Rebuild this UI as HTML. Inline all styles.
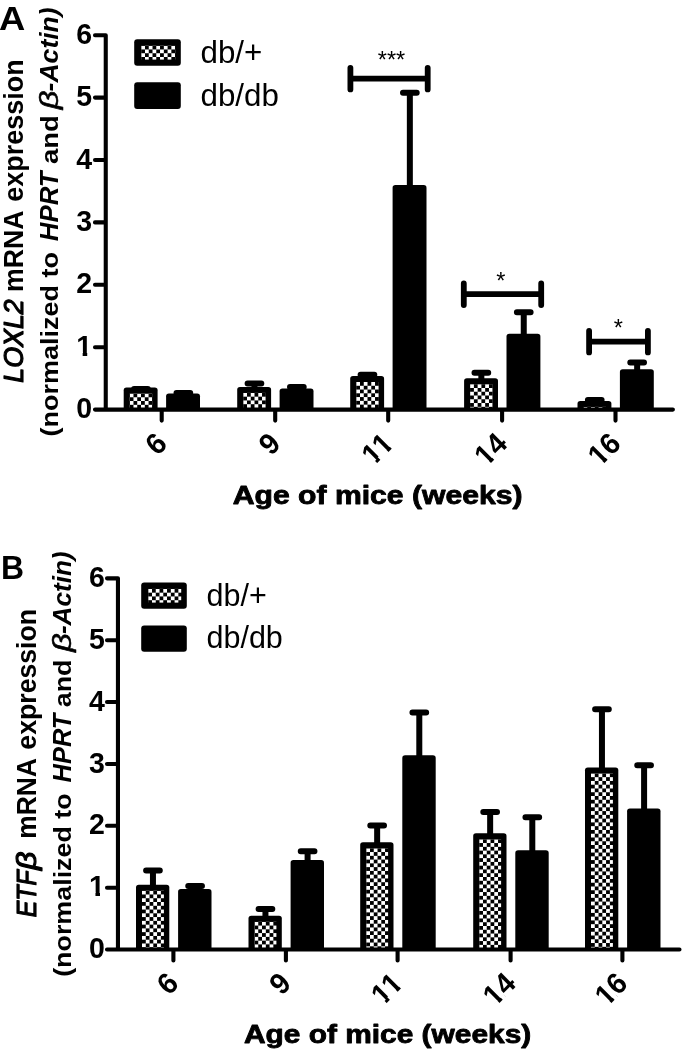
<!DOCTYPE html>
<html lang="en"><head><meta charset="utf-8"><title>Figure</title>
<style>
html,body{margin:0;padding:0;background:#fff;}
body{width:685px;height:1051px;overflow:hidden;}
svg{display:block;}
text{font-family:"Liberation Sans",Arial,Helvetica,sans-serif;fill:#000;}
.b{font-weight:bold;}
.i{font-style:italic;}
.mi{stroke:#000;stroke-width:0.55;stroke-linejoin:round;}
.li{stroke:#000;stroke-width:1.15;stroke-linejoin:round;}
.xl{stroke:#000;stroke-width:0.8;stroke-linejoin:round;}
.ax{stroke:#000;stroke-width:4.10;stroke-linecap:round;fill:none;}
.er{stroke:#000;stroke-width:6.00;stroke-linecap:round;fill:none;}
.br{stroke:#000;stroke-width:5.80;stroke-linecap:round;fill:none;}
</style></head><body>
<svg width="685" height="1051" viewBox="0 0 685 1051">
<defs><pattern id="chk" width="7.540" height="7.540" patternUnits="userSpaceOnUse">
<rect width="7.540" height="7.540" fill="#fff"/>
<rect x="3.770" y="0" width="3.770" height="3.770" fill="#000"/>
<rect x="0" y="3.770" width="3.770" height="3.770" fill="#000"/>
</pattern>
<clipPath id="c1" clipPathUnits="userSpaceOnUse"><path d="M-16.96 -29.60H0.00V-3.70H-16.96ZM-9.80 -5.92H-5.07V2.00H-9.80Z"/></clipPath>
<clipPath id="c11" clipPathUnits="userSpaceOnUse"><path d="M-33.43 -29.60H-16.46V-3.70H-33.43ZM-26.27 -5.92H-21.53V2.00H-26.27ZM-16.96 -29.60H0.00V-3.70H-16.96ZM-9.80 -5.92H-5.07V2.00H-9.80Z"/></clipPath>
<clipPath id="c14" clipPathUnits="userSpaceOnUse"><path d="M-33.43 -29.60H-16.46V-3.70H-33.43ZM-26.27 -5.92H-21.53V2.00H-26.27ZM-16.96 -29.60H0.50V8.88H-16.96Z"/></clipPath>
<clipPath id="c16" clipPathUnits="userSpaceOnUse"><path d="M-33.43 -29.60H-16.46V-3.70H-33.43ZM-26.27 -5.92H-21.53V2.00H-26.27ZM-16.96 -29.60H0.50V8.88H-16.96Z"/></clipPath>
</defs>
<rect width="685" height="1051" fill="#fff"/>
<g id="panelA">
<path class="er" d="M134.10 389.00H147.80M140.95 389.00V390.50"/>
<path class="er" d="M176.50 393.00H190.20M183.35 393.00V396.40"/>
<path class="er" d="M247.60 383.40H261.30M254.45 383.40V389.90"/>
<path class="er" d="M290.00 387.00H303.70M296.85 387.00V391.50"/>
<path class="er" d="M360.60 374.70H374.30M367.45 374.70V379.00"/>
<path class="er" d="M403.00 92.70H416.70M409.85 92.70V188.10"/>
<path class="er" d="M474.50 372.85H488.20M481.35 372.85V381.20"/>
<path class="er" d="M516.90 312.30H530.60M523.75 312.30V336.70"/>
<path class="er" d="M587.90 400.10H601.60M594.75 400.10V403.90"/>
<path class="er" d="M630.30 362.40H644.00M637.15 362.40V372.20"/>
<rect x="123.70" y="387.50" width="33.90" height="23.10" rx="2.8" fill="#000"/>
<g transform="translate(129.70 393.50)"><rect width="22.50" height="14.50" fill="url(#chk)"/></g>
<rect x="166.10" y="393.40" width="33.90" height="17.20" rx="2.8" fill="#000"/>
<rect x="237.20" y="386.90" width="33.90" height="23.70" rx="2.8" fill="#000"/>
<g transform="translate(243.20 392.90)"><rect width="22.50" height="15.10" fill="url(#chk)"/></g>
<rect x="279.60" y="388.50" width="33.90" height="22.10" rx="2.8" fill="#000"/>
<rect x="350.20" y="376.00" width="33.90" height="34.60" rx="2.8" fill="#000"/>
<g transform="translate(356.20 382.00)"><rect width="22.50" height="26.00" fill="url(#chk)"/></g>
<rect x="392.60" y="185.10" width="33.90" height="225.50" rx="2.8" fill="#000"/>
<rect x="464.10" y="378.20" width="33.90" height="32.40" rx="2.8" fill="#000"/>
<g transform="translate(470.10 384.20)"><rect width="22.50" height="23.80" fill="url(#chk)"/></g>
<rect x="506.50" y="333.70" width="33.90" height="76.90" rx="2.8" fill="#000"/>
<rect x="577.50" y="400.90" width="33.90" height="9.70" rx="2.8" fill="#000"/>
<g transform="translate(583.50 406.90)"><rect width="22.50" height="1.10" fill="url(#chk)"/></g>
<rect x="619.90" y="369.20" width="33.90" height="41.40" rx="2.8" fill="#000"/>
<path class="ax" d="M105.75 35.20V409.60M95.00 409.60H672.90M95.00 347.20H105.75M95.00 284.80H105.75M95.00 222.40H105.75M95.00 160.00H105.75M95.00 97.60H105.75M95.00 35.20H105.75M161.70 409.60V420.60M275.20 409.60V420.60M388.20 409.60V420.60M502.10 409.60V420.60M615.50 409.60V420.60"/>
<text class="b" transform="translate(92.10 418.20) scale(0.963 1)" font-size="29.6" text-anchor="end">0</text>
<text class="b" transform="translate(92.10 355.80) scale(0.963 1)" font-size="29.6" text-anchor="end" clip-path="url(#c1)">1</text>
<text class="b" transform="translate(92.10 293.40) scale(0.963 1)" font-size="29.6" text-anchor="end">2</text>
<text class="b" transform="translate(92.10 231.00) scale(0.963 1)" font-size="29.6" text-anchor="end">3</text>
<text class="b" transform="translate(92.10 168.60) scale(0.963 1)" font-size="29.6" text-anchor="end">4</text>
<text class="b" transform="translate(92.10 106.20) scale(0.963 1)" font-size="29.6" text-anchor="end">5</text>
<text class="b" transform="translate(92.10 43.80) scale(0.963 1)" font-size="29.6" text-anchor="end">6</text>
<text class="b" font-size="29.6" text-anchor="end" transform="translate(168.60 445.20) rotate(-45) scale(0.963 1)">6</text>
<text class="b" font-size="29.6" text-anchor="end" transform="translate(282.10 445.20) rotate(-45) scale(0.963 1)">9</text>
<text class="b" font-size="29.6" text-anchor="end" transform="translate(395.10 445.20) rotate(-45) scale(0.963 1)" clip-path="url(#c11)">11</text>
<text class="b" font-size="29.6" text-anchor="end" transform="translate(509.00 445.20) rotate(-45) scale(0.963 1)" clip-path="url(#c14)">14</text>
<text class="b" font-size="29.6" text-anchor="end" transform="translate(622.40 445.20) rotate(-45) scale(0.963 1)" clip-path="url(#c16)">16</text>
<path class="br" d="M350.40 78.60H427.70M350.40 67.80V89.40M427.70 67.80V89.40"/>
<path class="br" d="M463.80 294.20H541.20M463.80 283.40V305.00M541.20 283.40V305.00"/>
<path class="br" d="M589.10 341.60H647.90M589.10 330.80V352.40M647.90 330.80V352.40"/>
<text x="391.50" y="67.50" font-size="23.5" text-anchor="middle">***</text>
<text x="500.80" y="289.00" font-size="23.5" text-anchor="middle">*</text>
<text x="618.30" y="336.20" font-size="23.5" text-anchor="middle">*</text>
<rect x="134.20" y="39.20" width="46.60" height="26.60" rx="3.0" fill="#000"/>
<g transform="translate(141.20 45.70)"><rect width="34.00" height="13.90" fill="url(#chk)"/></g>
<rect x="134.20" y="82.30" width="46.60" height="26.60" rx="3.0" fill="#000"/>
<text x="200.50" y="63.30" font-size="31.3">db/+</text>
<text x="200.50" y="106.20" font-size="31.3">db/db</text>
<text class="b" transform="translate(-1.00 29.60) scale(1.070 1)" font-size="34.0">A</text>
<text transform="translate(22.80 381.90) rotate(-90)"><tspan class="i li" x="-0.80" font-size="26.8" textLength="83.46" lengthAdjust="spacingAndGlyphs">LOXL2</tspan> <tspan class="b" x="90.03" font-size="26.8" textLength="81.52" lengthAdjust="spacingAndGlyphs">mRNA</tspan> <tspan class="b" x="180.22" font-size="26.8" textLength="142.51" lengthAdjust="spacingAndGlyphs">expression</tspan></text>
<text transform="translate(58.20 435.20) rotate(-90)"><tspan class="b" x="-1.35" font-size="24.6" textLength="184.53" lengthAdjust="spacingAndGlyphs">(normalized to</tspan> <tspan class="b i" x="193.98" font-size="26.0" textLength="69.82" lengthAdjust="spacingAndGlyphs">HPRT</tspan> <tspan class="b" x="271.08" font-size="24.6" textLength="48.79" lengthAdjust="spacingAndGlyphs">and</tspan> <tspan class="i mi" x="326.05" font-size="26.0" textLength="18.65" lengthAdjust="spacingAndGlyphs">β</tspan><tspan class="b i" x="343.80" font-size="26.0" textLength="84.09" lengthAdjust="spacingAndGlyphs">-Actin)</tspan></text>
<text class="b xl" font-size="25.0" transform="translate(232.70 503.70) scale(1.207 1)">Age of mice (weeks)</text>
</g>
<g id="panelB">
<path class="er" d="M146.10 870.40H159.80M152.95 870.40V887.70"/>
<path class="er" d="M188.25 886.00H201.95M195.10 886.00V892.10"/>
<path class="er" d="M258.60 909.10H272.30M265.45 909.10V918.80"/>
<path class="er" d="M300.75 851.20H314.45M307.60 851.20V862.90"/>
<path class="er" d="M370.30 825.60H384.00M377.15 825.60V845.30"/>
<path class="er" d="M412.45 712.50H426.15M419.30 712.50V758.20"/>
<path class="er" d="M483.30 812.00H497.00M490.15 812.00V836.30"/>
<path class="er" d="M525.45 817.20H539.15M532.30 817.20V853.30"/>
<path class="er" d="M595.10 709.30H608.80M601.95 709.30V770.40"/>
<path class="er" d="M637.25 765.20H650.95M644.10 765.20V811.50"/>
<rect x="136.00" y="884.70" width="33.30" height="65.85" rx="2.8" fill="#000"/>
<g transform="translate(142.00 890.70)"><rect width="21.90" height="57.25" fill="url(#chk)"/></g>
<rect x="178.10" y="889.10" width="33.40" height="61.45" rx="2.8" fill="#000"/>
<rect x="248.50" y="915.80" width="33.30" height="34.75" rx="2.8" fill="#000"/>
<g transform="translate(254.50 921.80)"><rect width="21.90" height="26.15" fill="url(#chk)"/></g>
<rect x="290.60" y="859.90" width="33.40" height="90.65" rx="2.8" fill="#000"/>
<rect x="360.20" y="842.30" width="33.30" height="108.25" rx="2.8" fill="#000"/>
<g transform="translate(366.20 848.30)"><rect width="21.90" height="99.65" fill="url(#chk)"/></g>
<rect x="402.30" y="755.20" width="33.40" height="195.35" rx="2.8" fill="#000"/>
<rect x="473.20" y="833.30" width="33.30" height="117.25" rx="2.8" fill="#000"/>
<g transform="translate(479.20 839.30)"><rect width="21.90" height="108.65" fill="url(#chk)"/></g>
<rect x="515.30" y="850.30" width="33.40" height="100.25" rx="2.8" fill="#000"/>
<rect x="585.00" y="767.40" width="33.30" height="183.15" rx="2.8" fill="#000"/>
<g transform="translate(591.00 773.40)"><rect width="21.90" height="174.55" fill="url(#chk)"/></g>
<rect x="627.10" y="808.50" width="33.40" height="142.05" rx="2.8" fill="#000"/>
<path class="ax" d="M117.95 578.33V949.55M107.00 949.55H679.50M107.00 887.68H117.95M107.00 825.81H117.95M107.00 763.94H117.95M107.00 702.07H117.95M107.00 640.20H117.95M107.00 578.33H117.95M173.40 949.55V960.55M285.90 949.55V960.55M397.60 949.55V960.55M510.60 949.55V960.55M622.40 949.55V960.55"/>
<text class="b" transform="translate(104.90 958.15) scale(0.963 1)" font-size="29.6" text-anchor="end">0</text>
<text class="b" transform="translate(104.90 896.28) scale(0.963 1)" font-size="29.6" text-anchor="end" clip-path="url(#c1)">1</text>
<text class="b" transform="translate(104.90 834.41) scale(0.963 1)" font-size="29.6" text-anchor="end">2</text>
<text class="b" transform="translate(104.90 772.54) scale(0.963 1)" font-size="29.6" text-anchor="end">3</text>
<text class="b" transform="translate(104.90 710.67) scale(0.963 1)" font-size="29.6" text-anchor="end">4</text>
<text class="b" transform="translate(104.90 648.80) scale(0.963 1)" font-size="29.6" text-anchor="end">5</text>
<text class="b" transform="translate(104.90 586.93) scale(0.963 1)" font-size="29.6" text-anchor="end">6</text>
<text class="b" font-size="29.6" text-anchor="end" transform="translate(180.30 985.15) rotate(-45) scale(0.963 1)">6</text>
<text class="b" font-size="29.6" text-anchor="end" transform="translate(292.80 985.15) rotate(-45) scale(0.963 1)">9</text>
<text class="b" font-size="29.6" text-anchor="end" transform="translate(404.50 985.15) rotate(-45) scale(0.963 1)" clip-path="url(#c11)">11</text>
<text class="b" font-size="29.6" text-anchor="end" transform="translate(517.50 985.15) rotate(-45) scale(0.963 1)" clip-path="url(#c14)">14</text>
<text class="b" font-size="29.6" text-anchor="end" transform="translate(629.30 985.15) rotate(-45) scale(0.963 1)" clip-path="url(#c16)">16</text>
<rect x="141.20" y="582.40" width="45.60" height="26.40" rx="3.0" fill="#000"/>
<g transform="translate(148.20 588.90)"><rect width="33.00" height="13.70" fill="url(#chk)"/></g>
<rect x="141.20" y="625.40" width="45.60" height="26.40" rx="3.0" fill="#000"/>
<text x="206.50" y="606.20" font-size="30.5">db/+</text>
<text x="206.50" y="648.30" font-size="30.5">db/db</text>
<text class="b" transform="translate(0.90 579.00) scale(0.985 1)" font-size="32.4">B</text>
<text transform="translate(36.00 916.60) rotate(-90)"><tspan class="i li" x="-0.75" font-size="26.8" textLength="47.02" lengthAdjust="spacingAndGlyphs">ETF</tspan><tspan class="i li" x="46.65" font-size="27.5" textLength="18.45" lengthAdjust="spacingAndGlyphs">β</tspan> <tspan class="b" x="77.75" font-size="26.8" textLength="80.80" lengthAdjust="spacingAndGlyphs">mRNA</tspan> <tspan class="b" x="166.93" font-size="26.8" textLength="140.77" lengthAdjust="spacingAndGlyphs">expression</tspan></text>
<text transform="translate(71.30 975.50) rotate(-90)"><tspan class="b" x="-1.34" font-size="24.6" textLength="183.51" lengthAdjust="spacingAndGlyphs">(normalized to</tspan> <tspan class="b i" x="193.09" font-size="26.0" textLength="68.74" lengthAdjust="spacingAndGlyphs">HPRT</tspan> <tspan class="b" x="268.29" font-size="24.6" textLength="47.73" lengthAdjust="spacingAndGlyphs">and</tspan> <tspan class="i mi" x="323.65" font-size="26.0" textLength="18.45" lengthAdjust="spacingAndGlyphs">β</tspan><tspan class="b i" x="341.42" font-size="26.0" textLength="82.66" lengthAdjust="spacingAndGlyphs">-Actin)</tspan></text>
<text class="b xl" font-size="25.0" transform="translate(243.90 1043.00) scale(1.196 1)">Age of mice (weeks)</text>
</g>
</svg></body></html>
